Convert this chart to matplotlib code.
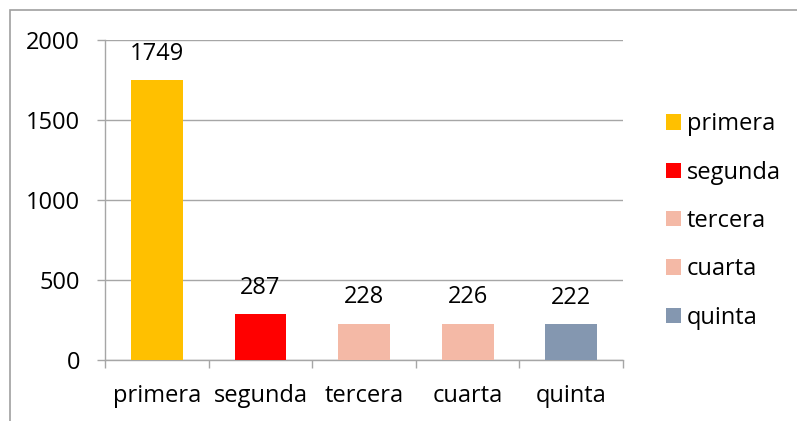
import matplotlib.pyplot as plt
from matplotlib.patches import Rectangle, Patch

categories = ["primera", "segunda", "tercera", "cuarta", "quinta"]
values = [1749, 287, 228, 226, 222]
colors = ["#FFC000", "#FF0000", "#F4B9A6", "#F4B9A6", "#8497B0"]

plt.rcParams['font.family'] = ['Open Sans', 'DejaVu Sans']
grid_color = "#A6A6A6"
fs = 17

fig = plt.figure(figsize=(7.97, 4.21), dpi=100)
# outer chart frame (cropped at the right and bottom)
fig.patches.append(Rectangle((10 / 797, -0.05), 1.0, (421 - 9.5) / 421 + 0.05,
                             transform=fig.transFigure, fill=False,
                             edgecolor="#A0A0A0", linewidth=1.2))

ax = fig.add_axes([105 / 797, 61 / 421, 518 / 797, 320 / 421])
x = range(len(categories))
ax.bar(x, values, width=0.5, color=colors, zorder=3)

for i, v in enumerate(values):
    ax.annotate(str(v), (i, v), xytext=(0, 19), textcoords="offset points",
                ha="center", va="center", fontsize=fs)

ax.set_xlim(-0.5, len(categories) - 0.5)
ax.set_ylim(0, 2000)
ax.set_yticks([0, 500, 1000, 1500, 2000])
ax.yaxis.grid(True, color=grid_color, linewidth=1.0, zorder=0)
ax.set_xticks(list(x))
ax.set_xticklabels(categories)
ax.set_xticks([i - 0.5 for i in range(len(categories) + 1)], minor=True)
ax.tick_params(axis="x", which="major", length=0, pad=17, labelsize=fs)
ax.tick_params(axis="x", which="minor", length=6, color=grid_color, width=1.0)
ax.tick_params(axis="y", length=6, color=grid_color, width=1.0, pad=12, labelsize=fs)

for s in ["top", "right"]:
    ax.spines[s].set_visible(False)
for s in ["left", "bottom"]:
    ax.spines[s].set_color(grid_color)
    ax.spines[s].set_linewidth(1.0)

handles = [Patch(facecolor=c, edgecolor="none") for c in colors]
fig.legend(handles, categories, loc="upper left", bbox_to_anchor=(645 / 797, 1 - 91 / 421),
           frameon=False, fontsize=fs, handlelength=0.62, handleheight=0.62,
           handletextpad=0.25, labelspacing=1.03)

fig.savefig("out.png", dpi=100)
